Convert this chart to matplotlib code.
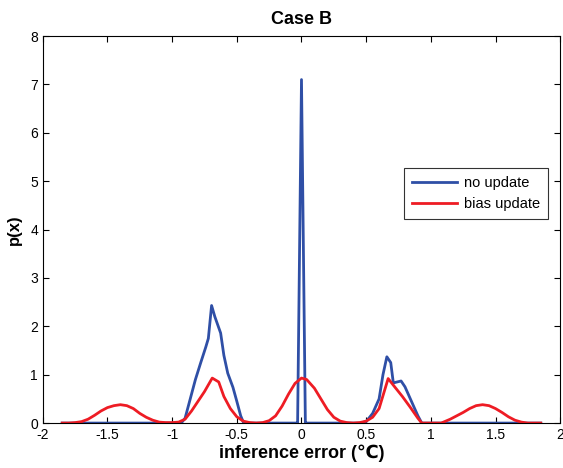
import matplotlib
matplotlib.use("Agg")
import matplotlib.pyplot as plt

plt.rcParams['font.family'] = ['Liberation Sans', 'DejaVu Sans']

# no update (blue)
x_blue = [-1.85, -0.93, -0.9, -0.86, -0.82, -0.78, -0.74, -0.72, -0.695, -0.67, -0.625, -0.6,
          -0.57, -0.53, -0.5, -0.47, -0.45, -0.42, -0.04, -0.03, 0.0, 0.03, 0.04,
          0.45, 0.5, 0.55, 0.6, 0.63, 0.66, 0.69, 0.71, 0.74, 0.77, 0.8, 0.85, 0.9, 0.93, 1.85]
y_blue = [0, 0, 0.1, 0.5, 0.9, 1.24, 1.57, 1.75, 2.43, 2.2, 1.86, 1.4,
          1.03, 0.74, 0.45, 0.15, 0.02, 0, 0, 0, 7.1, 0, 0,
          0, 0.03, 0.2, 0.5, 1.0, 1.37, 1.25, 0.83, 0.85, 0.87, 0.75, 0.45, 0.15, 0, 0]

# bias update (red)
x_red = [-1.85, -1.8, -1.75, -1.7, -1.65, -1.6, -1.55, -1.5, -1.45, -1.4, -1.35, -1.3, -1.25,
         -1.2, -1.15, -1.1, -1.05, -1.0, -0.95, -0.9, -0.85, -0.8, -0.75, -0.69, -0.64, -0.6,
         -0.55, -0.5, -0.45, -0.4, -0.35, -0.3, -0.25, -0.2, -0.15, -0.1, -0.05, 0.0, 0.04,
         0.1, 0.15, 0.2, 0.25, 0.3, 0.35, 0.4, 0.45, 0.5, 0.55, 0.6, 0.67, 0.72, 0.78, 0.84,
         0.9, 0.93, 1.0, 1.08, 1.15, 1.2, 1.25, 1.3, 1.35, 1.4, 1.45, 1.5, 1.55, 1.6, 1.65,
         1.7, 1.75, 1.85]
y_red = [0, 0, 0.01, 0.03, 0.08, 0.16, 0.25, 0.32, 0.36, 0.38, 0.36, 0.3, 0.2,
         0.12, 0.06, 0.02, 0.01, 0.01, 0.02, 0.08, 0.25, 0.45, 0.65, 0.93, 0.85, 0.55,
         0.3, 0.13, 0.04, 0.01, 0.0, 0.01, 0.05, 0.15, 0.35, 0.6, 0.82, 0.93, 0.9,
         0.72, 0.5, 0.28, 0.12, 0.04, 0.01, 0.0, 0.01, 0.04, 0.12, 0.3, 0.92, 0.75, 0.55, 0.33,
         0.1, 0.0, 0.0, 0.0, 0.08, 0.15, 0.22, 0.3, 0.36, 0.38, 0.36, 0.3, 0.22, 0.13, 0.06,
         0.02, 0.0, 0.0]

fig = plt.figure(figsize=(5.63, 4.68), dpi=100)
ax = fig.add_axes([0.076, 0.096, 0.919, 0.827])
ax.plot(x_blue, y_blue, color='#2f4fa6', lw=2, label='no update')
ax.plot(x_red, y_red, color='#ee1c24', lw=2, label='bias update')
ax.set_xlim(-2, 2)
ax.set_ylim(0, 8)
ax.set_xticks([-2, -1.5, -1, -0.5, 0, 0.5, 1, 1.5, 2])
ax.set_xticklabels(['-2', '-1.5', '-1', '-0.5', '0', '0.5', '1', '1.5', '2'])
ax.set_yticks(range(0, 9))
ax.tick_params(direction='in', top=True, right=True, labelsize=10, length=4)
ax.set_title('Case B', fontweight='bold', fontsize=13, pad=9)
ax.set_xlabel('inference error (℃)', fontweight='bold', fontsize=13, labelpad=2)
ax.set_ylabel('p(x)', fontweight='bold', fontsize=12, labelpad=6)
leg = ax.legend(loc='upper right', bbox_to_anchor=(0.977, 0.659), fancybox=False,
                edgecolor='black', fontsize=10.5, handlelength=3.1, handletextpad=0.5,
                borderpad=0.55, borderaxespad=0)
leg.get_frame().set_linewidth(0.8)
fig.savefig('out.png', dpi=100)
